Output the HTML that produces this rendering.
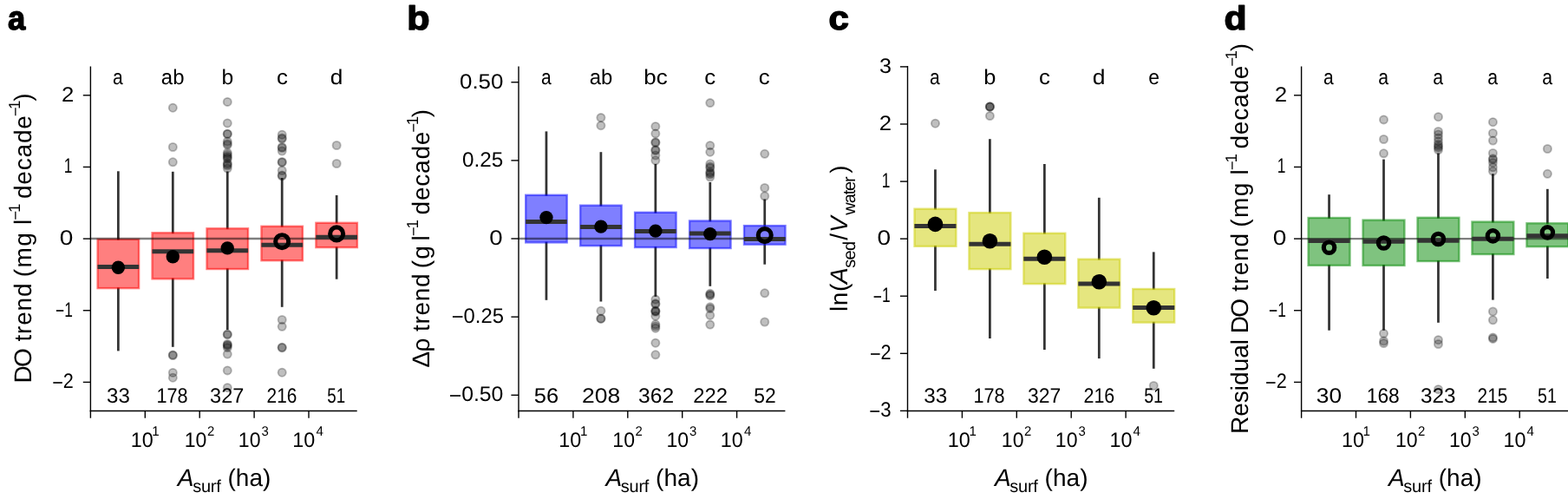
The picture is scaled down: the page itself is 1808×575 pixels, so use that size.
<!DOCTYPE html>
<html lang="en"><head><meta charset="utf-8"><title>Lake trends by surface area</title>
<style>html,body{margin:0;padding:0;background:#fff;}body{width:1808px;height:575px;overflow:hidden;}svg{display:block;}text{font-family:"Liberation Sans", Arial, Helvetica, sans-serif;fill:#000;font-kerning:none;font-variant-ligatures:none;text-rendering:geometricPrecision;white-space:pre;}</style></head><body>
<svg width="1808" height="575" viewBox="0 0 1808 575">
<rect x="0" y="0" width="1808" height="575" fill="#fff"/>
<g id="panel-a">
<line x1="136.35" x2="136.35" y1="197.3" y2="276.6" stroke="#333" stroke-width="2.75"/>
<line x1="136.35" x2="136.35" y1="331.3" y2="404.4" stroke="#333" stroke-width="2.75"/>
<line x1="199.3" x2="199.3" y1="197.8" y2="269.1" stroke="#333" stroke-width="2.75"/>
<line x1="199.3" x2="199.3" y1="320.5" y2="399.8" stroke="#333" stroke-width="2.75"/>
<line x1="262.25" x2="262.25" y1="197.5" y2="264.1" stroke="#333" stroke-width="2.75"/>
<line x1="262.25" x2="262.25" y1="309.2" y2="380" stroke="#333" stroke-width="2.75"/>
<line x1="325.2" x2="325.2" y1="205" y2="261.6" stroke="#333" stroke-width="2.75"/>
<line x1="325.2" x2="325.2" y1="299.4" y2="353.8" stroke="#333" stroke-width="2.75"/>
<line x1="388.15" x2="388.15" y1="225" y2="257.6" stroke="#333" stroke-width="2.75"/>
<line x1="388.15" x2="388.15" y1="284.3" y2="321.7" stroke="#333" stroke-width="2.75"/>
<circle cx="199.3" cy="124.2" r="4.6" fill="rgba(0,0,0,0.25)" stroke="rgba(0,0,0,0.25)" stroke-width="1.8"/>
<circle cx="199.3" cy="169.5" r="4.6" fill="rgba(0,0,0,0.25)" stroke="rgba(0,0,0,0.25)" stroke-width="1.8"/>
<circle cx="199.3" cy="186.8" r="4.6" fill="rgba(0,0,0,0.25)" stroke="rgba(0,0,0,0.25)" stroke-width="1.8"/>
<circle cx="199.3" cy="409.1" r="4.6" fill="rgba(0,0,0,0.25)" stroke="rgba(0,0,0,0.25)" stroke-width="1.8"/>
<circle cx="199.3" cy="409.5" r="4.6" fill="rgba(0,0,0,0.25)" stroke="rgba(0,0,0,0.25)" stroke-width="1.8"/>
<circle cx="199.3" cy="429.4" r="4.6" fill="rgba(0,0,0,0.25)" stroke="rgba(0,0,0,0.25)" stroke-width="1.8"/>
<circle cx="199.3" cy="435.2" r="4.6" fill="rgba(0,0,0,0.25)" stroke="rgba(0,0,0,0.25)" stroke-width="1.8"/>
<circle cx="262.25" cy="117.4" r="4.6" fill="rgba(0,0,0,0.25)" stroke="rgba(0,0,0,0.25)" stroke-width="1.8"/>
<circle cx="262.25" cy="141.9" r="4.6" fill="rgba(0,0,0,0.25)" stroke="rgba(0,0,0,0.25)" stroke-width="1.8"/>
<circle cx="262.25" cy="154.2" r="4.6" fill="rgba(0,0,0,0.25)" stroke="rgba(0,0,0,0.25)" stroke-width="1.8"/>
<circle cx="262.25" cy="154.5" r="4.6" fill="rgba(0,0,0,0.25)" stroke="rgba(0,0,0,0.25)" stroke-width="1.8"/>
<circle cx="262.25" cy="163" r="4.6" fill="rgba(0,0,0,0.25)" stroke="rgba(0,0,0,0.25)" stroke-width="1.8"/>
<circle cx="262.25" cy="165.5" r="4.6" fill="rgba(0,0,0,0.25)" stroke="rgba(0,0,0,0.25)" stroke-width="1.8"/>
<circle cx="262.25" cy="167" r="4.6" fill="rgba(0,0,0,0.25)" stroke="rgba(0,0,0,0.25)" stroke-width="1.8"/>
<circle cx="262.25" cy="176" r="4.6" fill="rgba(0,0,0,0.25)" stroke="rgba(0,0,0,0.25)" stroke-width="1.8"/>
<circle cx="262.25" cy="178" r="4.6" fill="rgba(0,0,0,0.25)" stroke="rgba(0,0,0,0.25)" stroke-width="1.8"/>
<circle cx="262.25" cy="180" r="4.6" fill="rgba(0,0,0,0.25)" stroke="rgba(0,0,0,0.25)" stroke-width="1.8"/>
<circle cx="262.25" cy="181.5" r="4.6" fill="rgba(0,0,0,0.25)" stroke="rgba(0,0,0,0.25)" stroke-width="1.8"/>
<circle cx="262.25" cy="183" r="4.6" fill="rgba(0,0,0,0.25)" stroke="rgba(0,0,0,0.25)" stroke-width="1.8"/>
<circle cx="262.25" cy="188" r="4.6" fill="rgba(0,0,0,0.25)" stroke="rgba(0,0,0,0.25)" stroke-width="1.8"/>
<circle cx="262.25" cy="189.5" r="4.6" fill="rgba(0,0,0,0.25)" stroke="rgba(0,0,0,0.25)" stroke-width="1.8"/>
<circle cx="262.25" cy="191" r="4.6" fill="rgba(0,0,0,0.25)" stroke="rgba(0,0,0,0.25)" stroke-width="1.8"/>
<circle cx="262.25" cy="194" r="4.6" fill="rgba(0,0,0,0.25)" stroke="rgba(0,0,0,0.25)" stroke-width="1.8"/>
<circle cx="262.25" cy="385.1" r="4.6" fill="rgba(0,0,0,0.25)" stroke="rgba(0,0,0,0.25)" stroke-width="1.8"/>
<circle cx="262.25" cy="385.7" r="4.6" fill="rgba(0,0,0,0.25)" stroke="rgba(0,0,0,0.25)" stroke-width="1.8"/>
<circle cx="262.25" cy="396.5" r="4.6" fill="rgba(0,0,0,0.25)" stroke="rgba(0,0,0,0.25)" stroke-width="1.8"/>
<circle cx="262.25" cy="397.5" r="4.6" fill="rgba(0,0,0,0.25)" stroke="rgba(0,0,0,0.25)" stroke-width="1.8"/>
<circle cx="262.25" cy="398.5" r="4.6" fill="rgba(0,0,0,0.25)" stroke="rgba(0,0,0,0.25)" stroke-width="1.8"/>
<circle cx="262.25" cy="400.6" r="4.6" fill="rgba(0,0,0,0.25)" stroke="rgba(0,0,0,0.25)" stroke-width="1.8"/>
<circle cx="262.25" cy="408.1" r="4.6" fill="rgba(0,0,0,0.25)" stroke="rgba(0,0,0,0.25)" stroke-width="1.8"/>
<circle cx="262.25" cy="426.9" r="4.6" fill="rgba(0,0,0,0.25)" stroke="rgba(0,0,0,0.25)" stroke-width="1.8"/>
<circle cx="262.25" cy="446.7" r="4.6" fill="rgba(0,0,0,0.25)" stroke="rgba(0,0,0,0.25)" stroke-width="1.8"/>
<circle cx="325.2" cy="155.2" r="4.6" fill="rgba(0,0,0,0.25)" stroke="rgba(0,0,0,0.25)" stroke-width="1.8"/>
<circle cx="325.2" cy="159" r="4.6" fill="rgba(0,0,0,0.25)" stroke="rgba(0,0,0,0.25)" stroke-width="1.8"/>
<circle cx="325.2" cy="160" r="4.6" fill="rgba(0,0,0,0.25)" stroke="rgba(0,0,0,0.25)" stroke-width="1.8"/>
<circle cx="325.2" cy="169.5" r="4.6" fill="rgba(0,0,0,0.25)" stroke="rgba(0,0,0,0.25)" stroke-width="1.8"/>
<circle cx="325.2" cy="170.5" r="4.6" fill="rgba(0,0,0,0.25)" stroke="rgba(0,0,0,0.25)" stroke-width="1.8"/>
<circle cx="325.2" cy="174" r="4.6" fill="rgba(0,0,0,0.25)" stroke="rgba(0,0,0,0.25)" stroke-width="1.8"/>
<circle cx="325.2" cy="186.5" r="4.6" fill="rgba(0,0,0,0.25)" stroke="rgba(0,0,0,0.25)" stroke-width="1.8"/>
<circle cx="325.2" cy="187.2" r="4.6" fill="rgba(0,0,0,0.25)" stroke="rgba(0,0,0,0.25)" stroke-width="1.8"/>
<circle cx="325.2" cy="196.5" r="4.6" fill="rgba(0,0,0,0.25)" stroke="rgba(0,0,0,0.25)" stroke-width="1.8"/>
<circle cx="325.2" cy="202" r="4.6" fill="rgba(0,0,0,0.25)" stroke="rgba(0,0,0,0.25)" stroke-width="1.8"/>
<circle cx="325.2" cy="202.8" r="4.6" fill="rgba(0,0,0,0.25)" stroke="rgba(0,0,0,0.25)" stroke-width="1.8"/>
<circle cx="325.2" cy="368.5" r="4.6" fill="rgba(0,0,0,0.25)" stroke="rgba(0,0,0,0.25)" stroke-width="1.8"/>
<circle cx="325.2" cy="376.3" r="4.6" fill="rgba(0,0,0,0.25)" stroke="rgba(0,0,0,0.25)" stroke-width="1.8"/>
<circle cx="325.2" cy="400.2" r="4.6" fill="rgba(0,0,0,0.25)" stroke="rgba(0,0,0,0.25)" stroke-width="1.8"/>
<circle cx="325.2" cy="400.8" r="4.6" fill="rgba(0,0,0,0.25)" stroke="rgba(0,0,0,0.25)" stroke-width="1.8"/>
<circle cx="325.2" cy="429.2" r="4.6" fill="rgba(0,0,0,0.25)" stroke="rgba(0,0,0,0.25)" stroke-width="1.8"/>
<circle cx="388.15" cy="167.5" r="4.6" fill="rgba(0,0,0,0.25)" stroke="rgba(0,0,0,0.25)" stroke-width="1.8"/>
<circle cx="388.15" cy="188.5" r="4.6" fill="rgba(0,0,0,0.25)" stroke="rgba(0,0,0,0.25)" stroke-width="1.8"/>
<rect x="112.6" y="275.8" width="47.5" height="56.3" fill="rgba(255,0,0,0.5)" stroke="rgba(255,0,0,0.5)" stroke-width="2.4"/>
<rect x="175.55" y="268.3" width="47.5" height="53" fill="rgba(255,0,0,0.5)" stroke="rgba(255,0,0,0.5)" stroke-width="2.4"/>
<rect x="238.5" y="263.3" width="47.5" height="46.7" fill="rgba(255,0,0,0.5)" stroke="rgba(255,0,0,0.5)" stroke-width="2.4"/>
<rect x="301.45" y="260.8" width="47.5" height="39.4" fill="rgba(255,0,0,0.5)" stroke="rgba(255,0,0,0.5)" stroke-width="2.4"/>
<rect x="364.4" y="256.8" width="47.5" height="28.3" fill="rgba(255,0,0,0.5)" stroke="rgba(255,0,0,0.5)" stroke-width="2.4"/>
<line x1="104.4" x2="411.7" y1="275" y2="275" stroke="rgba(0,0,0,0.5)" stroke-width="2.4"/>
<line x1="112.5" x2="160.2" y1="307.5" y2="307.5" stroke="#333" stroke-width="5"/>
<line x1="175.45" x2="223.15" y1="289.7" y2="289.7" stroke="#333" stroke-width="5"/>
<line x1="238.4" x2="286.1" y1="288.7" y2="288.7" stroke="#333" stroke-width="5"/>
<line x1="301.35" x2="349.05" y1="282.3" y2="282.3" stroke="#333" stroke-width="5"/>
<line x1="364.3" x2="412" y1="273.3" y2="273.3" stroke="#333" stroke-width="5"/>
<circle cx="136.35" cy="308.2" r="7.7" fill="#000"/>
<circle cx="199.3" cy="295.7" r="7.7" fill="#000"/>
<circle cx="262.25" cy="285.9" r="7.7" fill="#000"/>
<circle cx="325.2" cy="278.2" r="7.5" fill="none" stroke="#000" stroke-width="5.1"/>
<circle cx="388.15" cy="269.4" r="7.5" fill="none" stroke="#000" stroke-width="5.1"/>
<line x1="104.4" x2="104.4" y1="76.5" y2="474.25" stroke="#000" stroke-width="1.4"/>
<line x1="103.7" x2="411.7" y1="473.55" y2="473.55" stroke="#000" stroke-width="1.4"/>
<line x1="95.8" x2="104.4" y1="109.8" y2="109.8" stroke="#000" stroke-width="1.4"/>
<text transform="translate(0,116.8) scale(1.0701,1)" x="66.26" font-size="24">2</text>
<line x1="95.8" x2="104.4" y1="192.45" y2="192.45" stroke="#000" stroke-width="1.4"/>
<text transform="translate(0,199.45) scale(0.7248,1)" x="101.92" font-size="24">1</text>
<line x1="95.8" x2="104.4" y1="275.1" y2="275.1" stroke="#000" stroke-width="1.4"/>
<text transform="translate(0,282.1) scale(1.1680,1)" x="58.91" font-size="24">0</text>
<line x1="95.8" x2="104.4" y1="357.75" y2="357.75" stroke="#000" stroke-width="1.4"/>
<text transform="translate(0,364.75) scale(0.7238,1)" x="88.49" font-size="24"><tspan dy="1.3">−</tspan><tspan dy="-1.3">1</tspan></text>
<line x1="95.8" x2="104.4" y1="440.4" y2="440.4" stroke="#000" stroke-width="1.4"/>
<text transform="translate(0,447.4) scale(0.9010,1)" x="66.74" font-size="24"><tspan dy="1.3">−</tspan><tspan dy="-1.3">2</tspan></text>
<line x1="104.4" x2="104.4" y1="473.55" y2="481.75" stroke="#000" stroke-width="1.4"/>
<line x1="167.3" x2="167.3" y1="473.55" y2="481.75" stroke="#000" stroke-width="1.4"/>
<text transform="translate(0,515.3) scale(0.9737,1)" x="154.79" font-size="24">10<tspan x="180.03" y="-13" font-size="15.5">1</tspan></text>
<line x1="230.2" x2="230.2" y1="473.55" y2="481.75" stroke="#000" stroke-width="1.4"/>
<text transform="translate(0,515.3) scale(0.9611,1)" x="221.39" font-size="24">10<tspan x="248.67" y="-13" font-size="15.5">2</tspan></text>
<line x1="293.1" x2="293.1" y1="473.55" y2="481.75" stroke="#000" stroke-width="1.4"/>
<text transform="translate(0,515.3) scale(0.9611,1)" x="285.95" font-size="24">10<tspan x="313.69" y="-13" font-size="15.5">3</tspan></text>
<line x1="356" x2="356" y1="473.55" y2="481.75" stroke="#000" stroke-width="1.4"/>
<text transform="translate(0,515.3) scale(0.9737,1)" x="346.38" font-size="24">10<tspan x="374.25" y="-13" font-size="15.5">4</tspan></text>
<text transform="translate(0,96.85) scale(0.8760,1)" x="148.4" font-size="24">a</text>
<text transform="translate(0,96.85) scale(0.9972,1)" x="186.35" font-size="24">ab</text>
<text transform="translate(0,96.85) scale(1.0284,1)" x="248.39" font-size="24">b</text>
<text transform="translate(0,96.85) scale(1.0727,1)" x="297.34" font-size="24">c</text>
<text transform="translate(0,96.85) scale(1.0933,1)" x="348.35" font-size="24">d</text>
<text transform="translate(0,464.2) scale(1.0030,1)" x="122.72" font-size="24">33</text>
<text transform="translate(0,464.2) scale(0.9012,1)" x="200.34" font-size="24">178</text>
<text transform="translate(0,464.2) scale(0.9783,1)" x="247.47" font-size="24">327</text>
<text transform="translate(0,464.2) scale(0.8682,1)" x="354.26" font-size="24">216</text>
<text transform="translate(0,464.2) scale(0.7817,1)" x="482.61" font-size="24">51</text>
<text transform="translate(0,559.9) scale(1.0000,1)"><tspan x="204.8" y="0" font-size="28" font-style="italic">A</tspan><tspan x="222.14" y="7.5" font-size="20" style="letter-spacing:-0.24px">surf </tspan><tspan x="262.46" y="0" font-size="28" style="letter-spacing:0.06px">(ha)</tspan></text>
<text transform="translate(0,33.6) scale(0.9450,1)" x="9.56" font-size="38.5" font-weight="bold" stroke="#000" stroke-width="1.4" stroke-linejoin="round">a</text>
<text transform="translate(36.2,0) rotate(-90) scale(1.0000,1)"><tspan x="-441.4" y="0" font-size="28" style="letter-spacing:-1.86px">DO </tspan><tspan x="-393.62" y="0" font-size="28" style="letter-spacing:0.85px">trend </tspan><tspan x="-319.24" y="0" font-size="28" style="letter-spacing:1.36px">(mg </tspan><tspan x="-259.12" y="0" font-size="28">l</tspan><tspan x="-253.86" y="-12.2" font-size="18.5">−</tspan><tspan x="-245" y="-13" font-size="18.5">1 </tspan><tspan x="-229.08" y="0" font-size="28" style="letter-spacing:0.81px">decade</tspan><tspan x="-134.31" y="-12.2" font-size="18.5">−</tspan><tspan x="-125.9" y="-13" font-size="18.5">1</tspan><tspan x="-116.83" y="0" font-size="28">)</tspan></text>
</g>
<g id="panel-b">
<line x1="629.95" x2="629.95" y1="151.4" y2="225.6" stroke="#333" stroke-width="2.75"/>
<line x1="629.95" x2="629.95" y1="278.6" y2="345.8" stroke="#333" stroke-width="2.75"/>
<line x1="692.9" x2="692.9" y1="175.2" y2="237.5" stroke="#333" stroke-width="2.75"/>
<line x1="692.9" x2="692.9" y1="282.4" y2="347.5" stroke="#333" stroke-width="2.75"/>
<line x1="755.85" x2="755.85" y1="189" y2="245.6" stroke="#333" stroke-width="2.75"/>
<line x1="755.85" x2="755.85" y1="284.2" y2="341.8" stroke="#333" stroke-width="2.75"/>
<line x1="818.8" x2="818.8" y1="210" y2="255.3" stroke="#333" stroke-width="2.75"/>
<line x1="818.8" x2="818.8" y1="285.2" y2="329.8" stroke="#333" stroke-width="2.75"/>
<line x1="881.75" x2="881.75" y1="229.5" y2="260.9" stroke="#333" stroke-width="2.75"/>
<line x1="881.75" x2="881.75" y1="280.9" y2="304.7" stroke="#333" stroke-width="2.75"/>
<circle cx="692.9" cy="135.6" r="4.6" fill="rgba(0,0,0,0.25)" stroke="rgba(0,0,0,0.25)" stroke-width="1.8"/>
<circle cx="692.9" cy="144.7" r="4.6" fill="rgba(0,0,0,0.25)" stroke="rgba(0,0,0,0.25)" stroke-width="1.8"/>
<circle cx="692.9" cy="358.2" r="4.6" fill="rgba(0,0,0,0.25)" stroke="rgba(0,0,0,0.25)" stroke-width="1.8"/>
<circle cx="692.9" cy="366.9" r="4.6" fill="rgba(0,0,0,0.25)" stroke="rgba(0,0,0,0.25)" stroke-width="1.8"/>
<circle cx="692.9" cy="367.4" r="4.6" fill="rgba(0,0,0,0.25)" stroke="rgba(0,0,0,0.25)" stroke-width="1.8"/>
<circle cx="755.85" cy="145.7" r="4.6" fill="rgba(0,0,0,0.25)" stroke="rgba(0,0,0,0.25)" stroke-width="1.8"/>
<circle cx="755.85" cy="153.9" r="4.6" fill="rgba(0,0,0,0.25)" stroke="rgba(0,0,0,0.25)" stroke-width="1.8"/>
<circle cx="755.85" cy="163.8" r="4.6" fill="rgba(0,0,0,0.25)" stroke="rgba(0,0,0,0.25)" stroke-width="1.8"/>
<circle cx="755.85" cy="164.6" r="4.6" fill="rgba(0,0,0,0.25)" stroke="rgba(0,0,0,0.25)" stroke-width="1.8"/>
<circle cx="755.85" cy="172.7" r="4.6" fill="rgba(0,0,0,0.25)" stroke="rgba(0,0,0,0.25)" stroke-width="1.8"/>
<circle cx="755.85" cy="173.5" r="4.6" fill="rgba(0,0,0,0.25)" stroke="rgba(0,0,0,0.25)" stroke-width="1.8"/>
<circle cx="755.85" cy="179" r="4.6" fill="rgba(0,0,0,0.25)" stroke="rgba(0,0,0,0.25)" stroke-width="1.8"/>
<circle cx="755.85" cy="184.8" r="4.6" fill="rgba(0,0,0,0.25)" stroke="rgba(0,0,0,0.25)" stroke-width="1.8"/>
<circle cx="755.85" cy="345.1" r="4.6" fill="rgba(0,0,0,0.25)" stroke="rgba(0,0,0,0.25)" stroke-width="1.8"/>
<circle cx="755.85" cy="349.8" r="4.6" fill="rgba(0,0,0,0.25)" stroke="rgba(0,0,0,0.25)" stroke-width="1.8"/>
<circle cx="755.85" cy="350.4" r="4.6" fill="rgba(0,0,0,0.25)" stroke="rgba(0,0,0,0.25)" stroke-width="1.8"/>
<circle cx="755.85" cy="358" r="4.6" fill="rgba(0,0,0,0.25)" stroke="rgba(0,0,0,0.25)" stroke-width="1.8"/>
<circle cx="755.85" cy="358.6" r="4.6" fill="rgba(0,0,0,0.25)" stroke="rgba(0,0,0,0.25)" stroke-width="1.8"/>
<circle cx="755.85" cy="359.3" r="4.6" fill="rgba(0,0,0,0.25)" stroke="rgba(0,0,0,0.25)" stroke-width="1.8"/>
<circle cx="755.85" cy="364.2" r="4.6" fill="rgba(0,0,0,0.25)" stroke="rgba(0,0,0,0.25)" stroke-width="1.8"/>
<circle cx="755.85" cy="373.8" r="4.6" fill="rgba(0,0,0,0.25)" stroke="rgba(0,0,0,0.25)" stroke-width="1.8"/>
<circle cx="755.85" cy="376" r="4.6" fill="rgba(0,0,0,0.25)" stroke="rgba(0,0,0,0.25)" stroke-width="1.8"/>
<circle cx="755.85" cy="378.2" r="4.6" fill="rgba(0,0,0,0.25)" stroke="rgba(0,0,0,0.25)" stroke-width="1.8"/>
<circle cx="755.85" cy="395.2" r="4.6" fill="rgba(0,0,0,0.25)" stroke="rgba(0,0,0,0.25)" stroke-width="1.8"/>
<circle cx="755.85" cy="408.8" r="4.6" fill="rgba(0,0,0,0.25)" stroke="rgba(0,0,0,0.25)" stroke-width="1.8"/>
<circle cx="818.8" cy="118.6" r="4.6" fill="rgba(0,0,0,0.25)" stroke="rgba(0,0,0,0.25)" stroke-width="1.8"/>
<circle cx="818.8" cy="167.7" r="4.6" fill="rgba(0,0,0,0.25)" stroke="rgba(0,0,0,0.25)" stroke-width="1.8"/>
<circle cx="818.8" cy="175.2" r="4.6" fill="rgba(0,0,0,0.25)" stroke="rgba(0,0,0,0.25)" stroke-width="1.8"/>
<circle cx="818.8" cy="189" r="4.6" fill="rgba(0,0,0,0.25)" stroke="rgba(0,0,0,0.25)" stroke-width="1.8"/>
<circle cx="818.8" cy="192" r="4.6" fill="rgba(0,0,0,0.25)" stroke="rgba(0,0,0,0.25)" stroke-width="1.8"/>
<circle cx="818.8" cy="193.5" r="4.6" fill="rgba(0,0,0,0.25)" stroke="rgba(0,0,0,0.25)" stroke-width="1.8"/>
<circle cx="818.8" cy="198" r="4.6" fill="rgba(0,0,0,0.25)" stroke="rgba(0,0,0,0.25)" stroke-width="1.8"/>
<circle cx="818.8" cy="199.5" r="4.6" fill="rgba(0,0,0,0.25)" stroke="rgba(0,0,0,0.25)" stroke-width="1.8"/>
<circle cx="818.8" cy="201" r="4.6" fill="rgba(0,0,0,0.25)" stroke="rgba(0,0,0,0.25)" stroke-width="1.8"/>
<circle cx="818.8" cy="204" r="4.6" fill="rgba(0,0,0,0.25)" stroke="rgba(0,0,0,0.25)" stroke-width="1.8"/>
<circle cx="818.8" cy="338.3" r="4.6" fill="rgba(0,0,0,0.25)" stroke="rgba(0,0,0,0.25)" stroke-width="1.8"/>
<circle cx="818.8" cy="339.5" r="4.6" fill="rgba(0,0,0,0.25)" stroke="rgba(0,0,0,0.25)" stroke-width="1.8"/>
<circle cx="818.8" cy="340.7" r="4.6" fill="rgba(0,0,0,0.25)" stroke="rgba(0,0,0,0.25)" stroke-width="1.8"/>
<circle cx="818.8" cy="353.8" r="4.6" fill="rgba(0,0,0,0.25)" stroke="rgba(0,0,0,0.25)" stroke-width="1.8"/>
<circle cx="818.8" cy="355.6" r="4.6" fill="rgba(0,0,0,0.25)" stroke="rgba(0,0,0,0.25)" stroke-width="1.8"/>
<circle cx="818.8" cy="363.3" r="4.6" fill="rgba(0,0,0,0.25)" stroke="rgba(0,0,0,0.25)" stroke-width="1.8"/>
<circle cx="818.8" cy="374.1" r="4.6" fill="rgba(0,0,0,0.25)" stroke="rgba(0,0,0,0.25)" stroke-width="1.8"/>
<circle cx="881.75" cy="177.3" r="4.6" fill="rgba(0,0,0,0.25)" stroke="rgba(0,0,0,0.25)" stroke-width="1.8"/>
<circle cx="881.75" cy="216.5" r="4.6" fill="rgba(0,0,0,0.25)" stroke="rgba(0,0,0,0.25)" stroke-width="1.8"/>
<circle cx="881.75" cy="226" r="4.6" fill="rgba(0,0,0,0.25)" stroke="rgba(0,0,0,0.25)" stroke-width="1.8"/>
<circle cx="881.75" cy="337.8" r="4.6" fill="rgba(0,0,0,0.25)" stroke="rgba(0,0,0,0.25)" stroke-width="1.8"/>
<circle cx="881.75" cy="371" r="4.6" fill="rgba(0,0,0,0.25)" stroke="rgba(0,0,0,0.25)" stroke-width="1.8"/>
<rect x="606.2" y="224.8" width="47.5" height="54.6" fill="rgba(0,0,255,0.5)" stroke="rgba(0,0,255,0.5)" stroke-width="2.4"/>
<rect x="669.15" y="236.7" width="47.5" height="46.5" fill="rgba(0,0,255,0.5)" stroke="rgba(0,0,255,0.5)" stroke-width="2.4"/>
<rect x="732.1" y="244.8" width="47.5" height="40.2" fill="rgba(0,0,255,0.5)" stroke="rgba(0,0,255,0.5)" stroke-width="2.4"/>
<rect x="795.05" y="254.5" width="47.5" height="31.5" fill="rgba(0,0,255,0.5)" stroke="rgba(0,0,255,0.5)" stroke-width="2.4"/>
<rect x="858" y="260.1" width="47.5" height="21.6" fill="rgba(0,0,255,0.5)" stroke="rgba(0,0,255,0.5)" stroke-width="2.4"/>
<line x1="598" x2="905.4" y1="275" y2="275" stroke="rgba(0,0,0,0.5)" stroke-width="2.4"/>
<line x1="606.1" x2="653.8" y1="255.4" y2="255.4" stroke="#333" stroke-width="5"/>
<line x1="669.05" x2="716.75" y1="261.4" y2="261.4" stroke="#333" stroke-width="5"/>
<line x1="732" x2="779.7" y1="266.4" y2="266.4" stroke="#333" stroke-width="5"/>
<line x1="794.95" x2="842.65" y1="269.1" y2="269.1" stroke="#333" stroke-width="5"/>
<line x1="857.9" x2="905.6" y1="275.4" y2="275.4" stroke="#333" stroke-width="5"/>
<circle cx="629.95" cy="250.6" r="7.7" fill="#000"/>
<circle cx="692.9" cy="261.1" r="7.7" fill="#000"/>
<circle cx="755.85" cy="266.1" r="7.7" fill="#000"/>
<circle cx="818.8" cy="269.6" r="7.7" fill="#000"/>
<circle cx="881.75" cy="271.1" r="7.5" fill="none" stroke="#000" stroke-width="5.1"/>
<line x1="598" x2="598" y1="76.5" y2="474.25" stroke="#000" stroke-width="1.4"/>
<line x1="597.3" x2="905.4" y1="473.55" y2="473.55" stroke="#000" stroke-width="1.4"/>
<line x1="589.4" x2="598" y1="94.75" y2="94.75" stroke="#000" stroke-width="1.4"/>
<text transform="translate(0,101.75) scale(1.0795,1)" x="490.96" font-size="24">0.50</text>
<line x1="589.4" x2="598" y1="184.9" y2="184.9" stroke="#000" stroke-width="1.4"/>
<text transform="translate(0,191.9) scale(1.0097,1)" x="527.93" font-size="24">0.25</text>
<line x1="589.4" x2="598" y1="275" y2="275" stroke="#000" stroke-width="1.4"/>
<text transform="translate(0,282) scale(1.1506,1)" x="490.39" font-size="24">0</text>
<line x1="589.4" x2="598" y1="365.15" y2="365.15" stroke="#000" stroke-width="1.4"/>
<text transform="translate(0,372.15) scale(0.9926,1)" x="524.52" font-size="24"><tspan dy="1.3">−</tspan><tspan dy="-1.3">0.25</tspan></text>
<line x1="589.4" x2="598" y1="455.3" y2="455.3" stroke="#000" stroke-width="1.4"/>
<text transform="translate(0,462.3) scale(1.0323,1)" x="501.47" font-size="24"><tspan dy="1.3">−</tspan><tspan dy="-1.3">0.50</tspan></text>
<line x1="598" x2="598" y1="473.55" y2="481.75" stroke="#000" stroke-width="1.4"/>
<line x1="660.9" x2="660.9" y1="473.55" y2="481.75" stroke="#000" stroke-width="1.4"/>
<text transform="translate(0,515.3) scale(0.9737,1)" x="661.73" font-size="24">10<tspan x="686.97" y="-13" font-size="15.5">1</tspan></text>
<line x1="723.8" x2="723.8" y1="473.55" y2="481.75" stroke="#000" stroke-width="1.4"/>
<text transform="translate(0,515.3) scale(0.9611,1)" x="734.95" font-size="24">10<tspan x="762.22" y="-13" font-size="15.5">2</tspan></text>
<line x1="786.7" x2="786.7" y1="473.55" y2="481.75" stroke="#000" stroke-width="1.4"/>
<text transform="translate(0,515.3) scale(0.9611,1)" x="799.5" font-size="24">10<tspan x="827.24" y="-13" font-size="15.5">3</tspan></text>
<line x1="849.6" x2="849.6" y1="473.55" y2="481.75" stroke="#000" stroke-width="1.4"/>
<text transform="translate(0,515.3) scale(0.9737,1)" x="853.32" font-size="24">10<tspan x="881.19" y="-13" font-size="15.5">4</tspan></text>
<text transform="translate(0,96.85) scale(0.8760,1)" x="712.3" font-size="24">a</text>
<text transform="translate(0,96.85) scale(0.9972,1)" x="681.71" font-size="24">ab</text>
<text transform="translate(0,96.85) scale(1.0791,1)" x="687.89" font-size="24">bc</text>
<text transform="translate(0,96.85) scale(1.0727,1)" x="757.11" font-size="24">c</text>
<text transform="translate(0,96.85) scale(1.0727,1)" x="815.56" font-size="24">c</text>
<text transform="translate(0,464.2) scale(1.0616,1)" x="580.14" font-size="24">56</text>
<text transform="translate(0,464.2) scale(1.1034,1)" x="608.1" font-size="24">208</text>
<text transform="translate(0,464.2) scale(1.0232,1)" x="719.41" font-size="24">362</text>
<text transform="translate(0,464.2) scale(0.9913,1)" x="806.25" font-size="24">222</text>
<text transform="translate(0,464.2) scale(0.9540,1)" x="911.27" font-size="24">52</text>
<text transform="translate(0,559.9) scale(1.0000,1)"><tspan x="698.4" y="0" font-size="28" font-style="italic">A</tspan><tspan x="715.74" y="7.5" font-size="20" style="letter-spacing:-0.24px">surf </tspan><tspan x="756.06" y="0" font-size="28" style="letter-spacing:0.06px">(ha)</tspan></text>
<text transform="translate(0,33.6) scale(1.1185,1)" x="419.44" font-size="38.5" font-weight="bold" stroke="#000" stroke-width="1.4" stroke-linejoin="round">b</text>
<text transform="translate(495.1,0) rotate(-90) scale(1.0000,1)"><tspan x="-423.43" y="0" font-size="28" style="letter-spacing:-0.78px">Δρ </tspan><tspan x="-382.02" y="0" font-size="28" style="letter-spacing:0.7px">trend </tspan><tspan x="-309.34" y="0" font-size="28" style="letter-spacing:1.24px">(g </tspan><tspan x="-277.52" y="0" font-size="28">l</tspan><tspan x="-272.26" y="-12.2" font-size="18.5">−</tspan><tspan x="-263.4" y="-13" font-size="18.5">1 </tspan><tspan x="-247.48" y="0" font-size="28" style="letter-spacing:0.81px">decade</tspan><tspan x="-152.71" y="-12.2" font-size="18.5">−</tspan><tspan x="-144.3" y="-13" font-size="18.5">1</tspan><tspan x="-135.23" y="0" font-size="28">)</tspan></text>
</g>
<g id="panel-c">
<line x1="1078.45" x2="1078.45" y1="195.3" y2="241.5" stroke="#333" stroke-width="2.75"/>
<line x1="1078.45" x2="1078.45" y1="283" y2="335" stroke="#333" stroke-width="2.75"/>
<line x1="1141.4" x2="1141.4" y1="160.2" y2="245.9" stroke="#333" stroke-width="2.75"/>
<line x1="1141.4" x2="1141.4" y1="309.3" y2="390" stroke="#333" stroke-width="2.75"/>
<line x1="1204.35" x2="1204.35" y1="189" y2="269.6" stroke="#333" stroke-width="2.75"/>
<line x1="1204.35" x2="1204.35" y1="326.3" y2="403" stroke="#333" stroke-width="2.75"/>
<line x1="1267.3" x2="1267.3" y1="227.8" y2="299.5" stroke="#333" stroke-width="2.75"/>
<line x1="1267.3" x2="1267.3" y1="353.8" y2="413.1" stroke="#333" stroke-width="2.75"/>
<line x1="1330.25" x2="1330.25" y1="290.4" y2="333.8" stroke="#333" stroke-width="2.75"/>
<line x1="1330.25" x2="1330.25" y1="370.8" y2="424.8" stroke="#333" stroke-width="2.75"/>
<circle cx="1078.45" cy="142.2" r="4.6" fill="rgba(0,0,0,0.25)" stroke="rgba(0,0,0,0.25)" stroke-width="1.8"/>
<circle cx="1141.4" cy="122.9" r="4.6" fill="rgba(0,0,0,0.25)" stroke="rgba(0,0,0,0.25)" stroke-width="1.8"/>
<circle cx="1141.4" cy="122.9" r="4.6" fill="rgba(0,0,0,0.25)" stroke="rgba(0,0,0,0.25)" stroke-width="1.8"/>
<circle cx="1141.4" cy="123.1" r="4.6" fill="rgba(0,0,0,0.25)" stroke="rgba(0,0,0,0.25)" stroke-width="1.8"/>
<circle cx="1141.4" cy="133.6" r="4.6" fill="rgba(0,0,0,0.25)" stroke="rgba(0,0,0,0.25)" stroke-width="1.8"/>
<circle cx="1330.25" cy="444.5" r="4.6" fill="rgba(0,0,0,0.25)" stroke="rgba(0,0,0,0.25)" stroke-width="1.8"/>
<rect x="1054.5" y="240.7" width="47.9" height="43.1" fill="rgba(204,206,0,0.5)" stroke="rgba(204,206,0,0.5)" stroke-width="2.4"/>
<rect x="1117.45" y="245.1" width="47.9" height="65" fill="rgba(204,206,0,0.5)" stroke="rgba(204,206,0,0.5)" stroke-width="2.4"/>
<rect x="1180.4" y="268.8" width="47.9" height="58.3" fill="rgba(204,206,0,0.5)" stroke="rgba(204,206,0,0.5)" stroke-width="2.4"/>
<rect x="1243.35" y="298.7" width="47.9" height="55.9" fill="rgba(204,206,0,0.5)" stroke="rgba(204,206,0,0.5)" stroke-width="2.4"/>
<rect x="1306.3" y="333" width="47.9" height="38.6" fill="rgba(204,206,0,0.5)" stroke="rgba(204,206,0,0.5)" stroke-width="2.4"/>
<line x1="1054.4" x2="1102.5" y1="260.4" y2="260.4" stroke="#333" stroke-width="5"/>
<line x1="1117.35" x2="1165.45" y1="281.2" y2="281.2" stroke="#333" stroke-width="5"/>
<line x1="1180.3" x2="1228.4" y1="298.2" y2="298.2" stroke="#333" stroke-width="5"/>
<line x1="1243.25" x2="1291.35" y1="327" y2="327" stroke="#333" stroke-width="5"/>
<line x1="1306.2" x2="1354.3" y1="354.6" y2="354.6" stroke="#333" stroke-width="5"/>
<circle cx="1078.45" cy="258.4" r="8.8" fill="#000"/>
<circle cx="1141.4" cy="277.7" r="8.8" fill="#000"/>
<circle cx="1204.35" cy="296.2" r="8.8" fill="#000"/>
<circle cx="1267.3" cy="324.8" r="8.8" fill="#000"/>
<circle cx="1330.25" cy="354.7" r="8.8" fill="#000"/>
<line x1="1046.5" x2="1046.5" y1="76.1" y2="474.25" stroke="#000" stroke-width="1.4"/>
<line x1="1045.8" x2="1354.2" y1="473.55" y2="473.55" stroke="#000" stroke-width="1.4"/>
<line x1="1037.9" x2="1046.5" y1="76.9" y2="76.9" stroke="#000" stroke-width="1.4"/>
<text transform="translate(0,83.9) scale(1.0458,1)" x="969.54" font-size="24">3</text>
<line x1="1037.9" x2="1046.5" y1="143" y2="143" stroke="#000" stroke-width="1.4"/>
<text transform="translate(0,150) scale(1.0701,1)" x="947.31" font-size="24">2</text>
<line x1="1037.9" x2="1046.5" y1="209.1" y2="209.1" stroke="#000" stroke-width="1.4"/>
<text transform="translate(0,216.1) scale(0.7248,1)" x="1402.69" font-size="24">1</text>
<line x1="1037.9" x2="1046.5" y1="275.15" y2="275.15" stroke="#000" stroke-width="1.4"/>
<text transform="translate(0,282.15) scale(1.1680,1)" x="866.1" font-size="24">0</text>
<line x1="1037.9" x2="1046.5" y1="341.2" y2="341.2" stroke="#000" stroke-width="1.4"/>
<text transform="translate(0,348.2) scale(0.7238,1)" x="1391.1" font-size="24"><tspan dy="1.3">−</tspan><tspan dy="-1.3">1</tspan></text>
<line x1="1037.9" x2="1046.5" y1="407.3" y2="407.3" stroke="#000" stroke-width="1.4"/>
<text transform="translate(0,414.3) scale(0.9010,1)" x="1113.15" font-size="24"><tspan dy="1.3">−</tspan><tspan dy="-1.3">2</tspan></text>
<line x1="1037.9" x2="1046.5" y1="473.4" y2="473.4" stroke="#000" stroke-width="1.4"/>
<text transform="translate(0,480.4) scale(0.9234,1)" x="1085.47" font-size="24"><tspan dy="1.3">−</tspan><tspan dy="-1.3">3</tspan></text>
<line x1="1046.5" x2="1046.5" y1="473.55" y2="481.75" stroke="#000" stroke-width="1.4"/>
<line x1="1109.4" x2="1109.4" y1="473.55" y2="481.75" stroke="#000" stroke-width="1.4"/>
<text transform="translate(0,515.3) scale(0.9737,1)" x="1122.35" font-size="24">10<tspan x="1147.59" y="-13" font-size="15.5">1</tspan></text>
<line x1="1172.3" x2="1172.3" y1="473.55" y2="481.75" stroke="#000" stroke-width="1.4"/>
<text transform="translate(0,515.3) scale(0.9611,1)" x="1201.58" font-size="24">10<tspan x="1228.85" y="-13" font-size="15.5">2</tspan></text>
<line x1="1235.2" x2="1235.2" y1="473.55" y2="481.75" stroke="#000" stroke-width="1.4"/>
<text transform="translate(0,515.3) scale(0.9611,1)" x="1266.13" font-size="24">10<tspan x="1293.87" y="-13" font-size="15.5">3</tspan></text>
<line x1="1298.1" x2="1298.1" y1="473.55" y2="481.75" stroke="#000" stroke-width="1.4"/>
<text transform="translate(0,515.3) scale(0.9737,1)" x="1313.95" font-size="24">10<tspan x="1341.81" y="-13" font-size="15.5">4</tspan></text>
<text transform="translate(0,96.85) scale(0.8760,1)" x="1223.69" font-size="24">a</text>
<text transform="translate(0,96.85) scale(1.0562,1)" x="1074.01" font-size="24">b</text>
<text transform="translate(0,96.85) scale(1.0727,1)" x="1116.76" font-size="24">c</text>
<text transform="translate(0,96.85) scale(1.1026,1)" x="1142.64" font-size="24">d</text>
<text transform="translate(0,96.85) scale(0.9501,1)" x="1393.7" font-size="24">e</text>
<text transform="translate(0,464.2) scale(1.0111,1)" x="1053.53" font-size="24">33</text>
<text transform="translate(0,464.2) scale(0.9012,1)" x="1245.59" font-size="24">178</text>
<text transform="translate(0,464.2) scale(0.9546,1)" x="1241.39" font-size="24">327</text>
<text transform="translate(0,464.2) scale(0.8946,1)" x="1396.7" font-size="24">216</text>
<text transform="translate(0,464.2) scale(0.8142,1)" x="1620.16" font-size="24">51</text>
<text transform="translate(0,559.9) scale(1.0000,1)"><tspan x="1146.9" y="0" font-size="28" font-style="italic">A</tspan><tspan x="1164.24" y="7.5" font-size="20" style="letter-spacing:-0.24px">surf </tspan><tspan x="1204.56" y="0" font-size="28" style="letter-spacing:0.06px">(ha)</tspan></text>
<text transform="translate(0,33.6) scale(1.0916,1)" x="875.39" font-size="38.5" font-weight="bold" stroke="#000" stroke-width="1.4" stroke-linejoin="round">c</text>
<text transform="translate(977,0) rotate(-90) scale(1.0000,1)"><tspan x="-358.89" y="0" font-size="28" style="letter-spacing:0.52px">ln(</tspan><tspan x="-327" y="0" font-size="28" font-style="italic">A</tspan><tspan x="-308.76" y="8.8" font-size="20" style="letter-spacing:-0.65px">sed</tspan><tspan x="-276.79" y="0" font-size="28">/</tspan><tspan x="-267.88" y="0" font-size="28" font-style="italic">V</tspan><tspan x="-247.67" y="8.8" font-size="20" style="letter-spacing:-1.13px">water</tspan><tspan x="-199.63" y="0" font-size="28">)</tspan></text>
</g>
<g id="panel-d">
<line x1="1532.55" x2="1532.55" y1="224.2" y2="251.8" stroke="#333" stroke-width="2.75"/>
<line x1="1532.55" x2="1532.55" y1="305" y2="380.7" stroke="#333" stroke-width="2.75"/>
<line x1="1595.5" x2="1595.5" y1="183.6" y2="254.4" stroke="#333" stroke-width="2.75"/>
<line x1="1595.5" x2="1595.5" y1="305.1" y2="380.7" stroke="#333" stroke-width="2.75"/>
<line x1="1658.45" x2="1658.45" y1="176.5" y2="251.6" stroke="#333" stroke-width="2.75"/>
<line x1="1658.45" x2="1658.45" y1="300.2" y2="371.8" stroke="#333" stroke-width="2.75"/>
<line x1="1721.4" x2="1721.4" y1="200.3" y2="256.4" stroke="#333" stroke-width="2.75"/>
<line x1="1721.4" x2="1721.4" y1="292.2" y2="345.6" stroke="#333" stroke-width="2.75"/>
<line x1="1784.35" x2="1784.35" y1="217.8" y2="258.1" stroke="#333" stroke-width="2.75"/>
<line x1="1784.35" x2="1784.35" y1="283.4" y2="321" stroke="#333" stroke-width="2.75"/>
<circle cx="1595.5" cy="137.9" r="4.6" fill="rgba(0,0,0,0.25)" stroke="rgba(0,0,0,0.25)" stroke-width="1.8"/>
<circle cx="1595.5" cy="160.5" r="4.6" fill="rgba(0,0,0,0.25)" stroke="rgba(0,0,0,0.25)" stroke-width="1.8"/>
<circle cx="1595.5" cy="176.8" r="4.6" fill="rgba(0,0,0,0.25)" stroke="rgba(0,0,0,0.25)" stroke-width="1.8"/>
<circle cx="1595.5" cy="384.3" r="4.6" fill="rgba(0,0,0,0.25)" stroke="rgba(0,0,0,0.25)" stroke-width="1.8"/>
<circle cx="1595.5" cy="393" r="4.6" fill="rgba(0,0,0,0.25)" stroke="rgba(0,0,0,0.25)" stroke-width="1.8"/>
<circle cx="1595.5" cy="395.6" r="4.6" fill="rgba(0,0,0,0.25)" stroke="rgba(0,0,0,0.25)" stroke-width="1.8"/>
<circle cx="1658.45" cy="134.7" r="4.6" fill="rgba(0,0,0,0.25)" stroke="rgba(0,0,0,0.25)" stroke-width="1.8"/>
<circle cx="1658.45" cy="151.5" r="4.6" fill="rgba(0,0,0,0.25)" stroke="rgba(0,0,0,0.25)" stroke-width="1.8"/>
<circle cx="1658.45" cy="155" r="4.6" fill="rgba(0,0,0,0.25)" stroke="rgba(0,0,0,0.25)" stroke-width="1.8"/>
<circle cx="1658.45" cy="159" r="4.6" fill="rgba(0,0,0,0.25)" stroke="rgba(0,0,0,0.25)" stroke-width="1.8"/>
<circle cx="1658.45" cy="163" r="4.6" fill="rgba(0,0,0,0.25)" stroke="rgba(0,0,0,0.25)" stroke-width="1.8"/>
<circle cx="1658.45" cy="166.5" r="4.6" fill="rgba(0,0,0,0.25)" stroke="rgba(0,0,0,0.25)" stroke-width="1.8"/>
<circle cx="1658.45" cy="168.5" r="4.6" fill="rgba(0,0,0,0.25)" stroke="rgba(0,0,0,0.25)" stroke-width="1.8"/>
<circle cx="1658.45" cy="170.3" r="4.6" fill="rgba(0,0,0,0.25)" stroke="rgba(0,0,0,0.25)" stroke-width="1.8"/>
<circle cx="1658.45" cy="172.8" r="4.6" fill="rgba(0,0,0,0.25)" stroke="rgba(0,0,0,0.25)" stroke-width="1.8"/>
<circle cx="1658.45" cy="391.7" r="4.6" fill="rgba(0,0,0,0.25)" stroke="rgba(0,0,0,0.25)" stroke-width="1.8"/>
<circle cx="1658.45" cy="396.5" r="4.6" fill="rgba(0,0,0,0.25)" stroke="rgba(0,0,0,0.25)" stroke-width="1.8"/>
<circle cx="1658.45" cy="448.7" r="4.6" fill="rgba(0,0,0,0.25)" stroke="rgba(0,0,0,0.25)" stroke-width="1.8"/>
<circle cx="1721.4" cy="140.7" r="4.6" fill="rgba(0,0,0,0.25)" stroke="rgba(0,0,0,0.25)" stroke-width="1.8"/>
<circle cx="1721.4" cy="153.5" r="4.6" fill="rgba(0,0,0,0.25)" stroke="rgba(0,0,0,0.25)" stroke-width="1.8"/>
<circle cx="1721.4" cy="162" r="4.6" fill="rgba(0,0,0,0.25)" stroke="rgba(0,0,0,0.25)" stroke-width="1.8"/>
<circle cx="1721.4" cy="176.5" r="4.6" fill="rgba(0,0,0,0.25)" stroke="rgba(0,0,0,0.25)" stroke-width="1.8"/>
<circle cx="1721.4" cy="182.8" r="4.6" fill="rgba(0,0,0,0.25)" stroke="rgba(0,0,0,0.25)" stroke-width="1.8"/>
<circle cx="1721.4" cy="184" r="4.6" fill="rgba(0,0,0,0.25)" stroke="rgba(0,0,0,0.25)" stroke-width="1.8"/>
<circle cx="1721.4" cy="187.5" r="4.6" fill="rgba(0,0,0,0.25)" stroke="rgba(0,0,0,0.25)" stroke-width="1.8"/>
<circle cx="1721.4" cy="192.8" r="4.6" fill="rgba(0,0,0,0.25)" stroke="rgba(0,0,0,0.25)" stroke-width="1.8"/>
<circle cx="1721.4" cy="197.3" r="4.6" fill="rgba(0,0,0,0.25)" stroke="rgba(0,0,0,0.25)" stroke-width="1.8"/>
<circle cx="1721.4" cy="359" r="4.6" fill="rgba(0,0,0,0.25)" stroke="rgba(0,0,0,0.25)" stroke-width="1.8"/>
<circle cx="1721.4" cy="368.8" r="4.6" fill="rgba(0,0,0,0.25)" stroke="rgba(0,0,0,0.25)" stroke-width="1.8"/>
<circle cx="1721.4" cy="388.9" r="4.6" fill="rgba(0,0,0,0.25)" stroke="rgba(0,0,0,0.25)" stroke-width="1.8"/>
<circle cx="1721.4" cy="390.4" r="4.6" fill="rgba(0,0,0,0.25)" stroke="rgba(0,0,0,0.25)" stroke-width="1.8"/>
<circle cx="1784.35" cy="171.5" r="4.6" fill="rgba(0,0,0,0.25)" stroke="rgba(0,0,0,0.25)" stroke-width="1.8"/>
<circle cx="1784.35" cy="200.3" r="4.6" fill="rgba(0,0,0,0.25)" stroke="rgba(0,0,0,0.25)" stroke-width="1.8"/>
<rect x="1508.6" y="251" width="47.9" height="54.8" fill="rgba(0,136,0,0.5)" stroke="rgba(0,136,0,0.5)" stroke-width="2.4"/>
<rect x="1571.55" y="253.6" width="47.9" height="52.3" fill="rgba(0,136,0,0.5)" stroke="rgba(0,136,0,0.5)" stroke-width="2.4"/>
<rect x="1634.5" y="250.8" width="47.9" height="50.2" fill="rgba(0,136,0,0.5)" stroke="rgba(0,136,0,0.5)" stroke-width="2.4"/>
<rect x="1697.45" y="255.6" width="47.9" height="37.4" fill="rgba(0,136,0,0.5)" stroke="rgba(0,136,0,0.5)" stroke-width="2.4"/>
<rect x="1760.4" y="257.3" width="47.9" height="26.9" fill="rgba(0,136,0,0.5)" stroke="rgba(0,136,0,0.5)" stroke-width="2.4"/>
<line x1="1500.6" x2="1809" y1="275.1" y2="275.1" stroke="rgba(0,0,0,0.5)" stroke-width="2.4"/>
<line x1="1508.5" x2="1556.6" y1="277.6" y2="277.6" stroke="#333" stroke-width="5"/>
<line x1="1571.45" x2="1619.55" y1="278.3" y2="278.3" stroke="#333" stroke-width="5"/>
<line x1="1634.4" x2="1682.5" y1="277.2" y2="277.2" stroke="#333" stroke-width="5"/>
<line x1="1697.35" x2="1745.45" y1="275.2" y2="275.2" stroke="#333" stroke-width="5"/>
<line x1="1760.3" x2="1808.4" y1="271.8" y2="271.8" stroke="#333" stroke-width="5"/>
<circle cx="1532.55" cy="285.2" r="6.2" fill="none" stroke="#000" stroke-width="5.15"/>
<circle cx="1595.5" cy="280" r="6.2" fill="none" stroke="#000" stroke-width="5.15"/>
<circle cx="1658.45" cy="275.5" r="6.2" fill="none" stroke="#000" stroke-width="5.15"/>
<circle cx="1721.4" cy="271.9" r="6.2" fill="none" stroke="#000" stroke-width="5.15"/>
<circle cx="1784.35" cy="267.9" r="6.2" fill="none" stroke="#000" stroke-width="5.15"/>
<line x1="1500.6" x2="1500.6" y1="76.5" y2="474.25" stroke="#000" stroke-width="1.4"/>
<line x1="1499.9" x2="1809" y1="473.55" y2="473.55" stroke="#000" stroke-width="1.4"/>
<line x1="1492" x2="1500.6" y1="109.8" y2="109.8" stroke="#000" stroke-width="1.4"/>
<text transform="translate(0,116.8) scale(1.0792,1)" x="1361.88" font-size="24">2</text>
<line x1="1492" x2="1500.6" y1="192.45" y2="192.45" stroke="#000" stroke-width="1.4"/>
<text transform="translate(0,199.45) scale(0.7248,1)" x="2031.97" font-size="24">1</text>
<line x1="1492" x2="1500.6" y1="275.1" y2="275.1" stroke="#000" stroke-width="1.4"/>
<text transform="translate(0,282.1) scale(1.1680,1)" x="1256.6" font-size="24">0</text>
<line x1="1492" x2="1500.6" y1="357.75" y2="357.75" stroke="#000" stroke-width="1.4"/>
<text transform="translate(0,364.75) scale(0.7238,1)" x="2021.27" font-size="24"><tspan dy="1.3">−</tspan><tspan dy="-1.3">1</tspan></text>
<line x1="1492" x2="1500.6" y1="440.4" y2="440.4" stroke="#000" stroke-width="1.4"/>
<text transform="translate(0,447.4) scale(0.9010,1)" x="1619.38" font-size="24"><tspan dy="1.3">−</tspan><tspan dy="-1.3">2</tspan></text>
<line x1="1500.6" x2="1500.6" y1="473.55" y2="481.75" stroke="#000" stroke-width="1.4"/>
<line x1="1563.5" x2="1563.5" y1="473.55" y2="481.75" stroke="#000" stroke-width="1.4"/>
<text transform="translate(0,515.3) scale(0.9737,1)" x="1588.73" font-size="24">10<tspan x="1613.97" y="-13" font-size="15.5">1</tspan></text>
<line x1="1626.4" x2="1626.4" y1="473.55" y2="481.75" stroke="#000" stroke-width="1.4"/>
<text transform="translate(0,515.3) scale(0.9611,1)" x="1674.03" font-size="24">10<tspan x="1701.3" y="-13" font-size="15.5">2</tspan></text>
<line x1="1689.3" x2="1689.3" y1="473.55" y2="481.75" stroke="#000" stroke-width="1.4"/>
<text transform="translate(0,515.3) scale(0.9611,1)" x="1738.59" font-size="24">10<tspan x="1766.32" y="-13" font-size="15.5">3</tspan></text>
<line x1="1752.2" x2="1752.2" y1="473.55" y2="481.75" stroke="#000" stroke-width="1.4"/>
<text transform="translate(0,515.3) scale(0.9737,1)" x="1780.32" font-size="24">10<tspan x="1808.18" y="-13" font-size="15.5">4</tspan></text>
<text transform="translate(0,96.85) scale(0.8760,1)" x="1741.93" font-size="24">a</text>
<text transform="translate(0,96.85) scale(0.8842,1)" x="1797.3" font-size="24">a</text>
<text transform="translate(0,96.85) scale(0.8842,1)" x="1868.56" font-size="24">a</text>
<text transform="translate(0,96.85) scale(0.8842,1)" x="1939.81" font-size="24">a</text>
<text transform="translate(0,96.85) scale(0.8842,1)" x="2011.18" font-size="24">a</text>
<text transform="translate(0,464.2) scale(1.0948,1)" x="1386.41" font-size="24">30</text>
<text transform="translate(0,464.2) scale(0.9470,1)" x="1663.94" font-size="24">168</text>
<text transform="translate(0,464.2) scale(1.0112,1)" x="1619.96" font-size="24">323</text>
<text transform="translate(0,464.2) scale(0.8671,1)" x="1964.7" font-size="24">215</text>
<text transform="translate(0,464.2) scale(0.8142,1)" x="2177.73" font-size="24">51</text>
<text transform="translate(0,559.9) scale(1.0000,1)"><tspan x="1601" y="0" font-size="28" font-style="italic">A</tspan><tspan x="1618.34" y="7.5" font-size="20" style="letter-spacing:-0.24px">surf </tspan><tspan x="1658.66" y="0" font-size="28" style="letter-spacing:0.06px">(ha)</tspan></text>
<text transform="translate(0,33.6) scale(1.1082,1)" x="1273.79" font-size="38.5" font-weight="bold" stroke="#000" stroke-width="1.4" stroke-linejoin="round">d</text>
<text transform="translate(1438.9,0) rotate(-90) scale(1.0000,1)"><tspan x="-500" y="0" font-size="28" style="letter-spacing:0.02px">Residual </tspan><tspan x="-384.2" y="0" font-size="28" style="letter-spacing:-1.86px">DO </tspan><tspan x="-336.12" y="0" font-size="28" style="letter-spacing:0.85px">trend </tspan><tspan x="-261.74" y="0" font-size="28" style="letter-spacing:1.36px">(mg </tspan><tspan x="-201.62" y="0" font-size="28">l</tspan><tspan x="-196.36" y="-12.2" font-size="18.5">−</tspan><tspan x="-187.5" y="-13" font-size="18.5">1 </tspan><tspan x="-171.58" y="0" font-size="28" style="letter-spacing:0.81px">decade</tspan><tspan x="-76.81" y="-12.2" font-size="18.5">−</tspan><tspan x="-68.4" y="-13" font-size="18.5">1</tspan><tspan x="-59.33" y="0" font-size="28">)</tspan></text>
</g>
</svg></body></html>
